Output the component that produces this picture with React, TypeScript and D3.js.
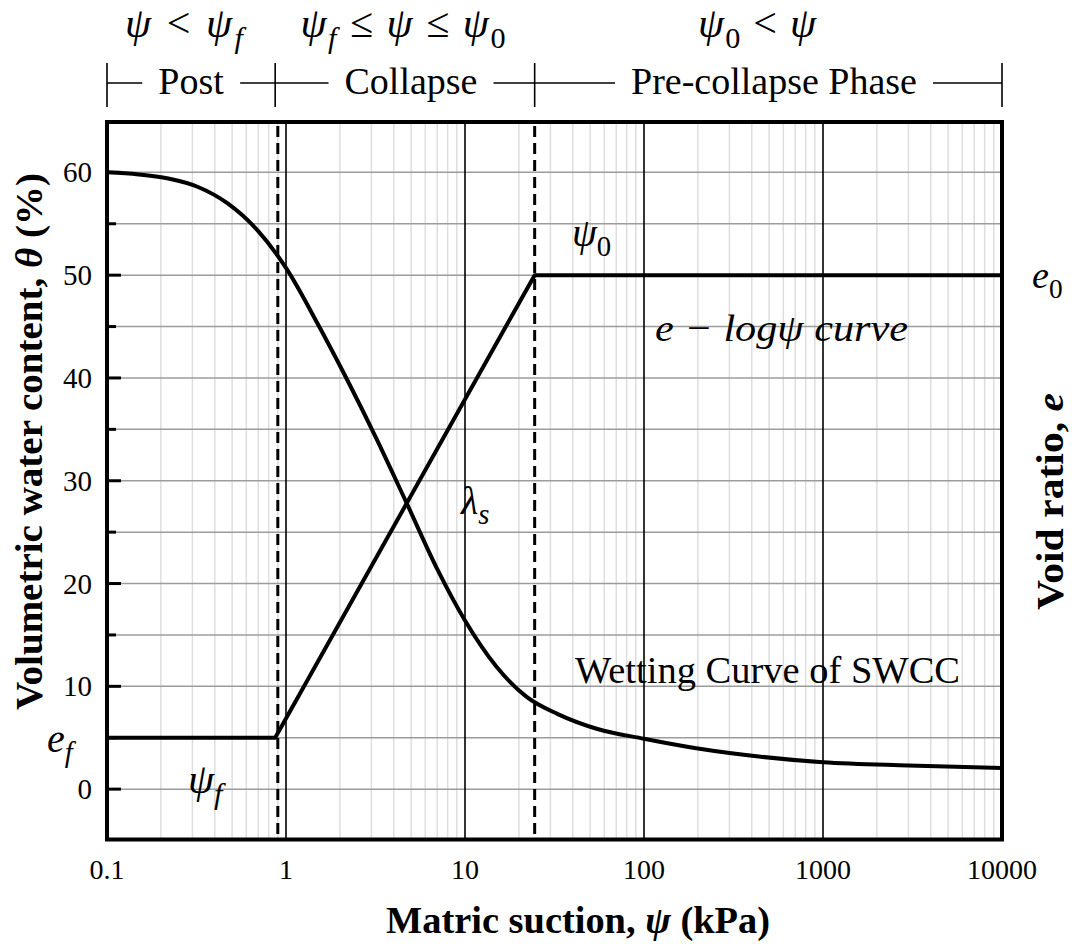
import React, { useEffect, useRef } from "react";
import * as d3 from "d3";

// ---- data ----
const swccSuction = [0.1, 0.15, 0.22, 0.32, 0.47, 0.69, 1.0, 1.5, 2.2, 3.2, 4.7, 7, 10, 15, 22, 33, 55, 100, 200, 450, 1000, 3000, 10000];
const swccTheta = [60, 59.8, 59.4, 58.6, 57.0, 54.4, 50.7, 45.3, 39.8, 34.1, 27.9, 21.4, 16.4, 11.9, 9.0, 7.3, 5.85, 4.9, 3.95, 3.15, 2.62, 2.3, 2.05];
const eLogSuction = [0.1, 0.87, 24.5, 10000];
const eLogValue = [5, 5, 50, 50];
const boundarySuction = [0.9, 24.5];
const xTickValues = [0.1, 1, 10, 100, 1000, 10000];
const xTickLabels = ["0.1", "1", "10", "100", "1000", "10000"];
const yTickValues = [0, 10, 20, 30, 40, 50, 60];
const yMinorValues = [5, 15, 25, 35, 45, 55];
const phaseNames = ["Post", "Collapse", "Pre-collapse Phase"];
const phaseBounds = [0.1, 0.87, 24.5, 10000];

const W = 1079;
const H = 944;
const SERIF = "'Liberation Serif', 'Times New Roman', serif";

type Part = { t: string; it?: boolean; sub?: boolean };

function mathText(g: any, x: number, y: number, parts: Part[], size: number, anchor = "start", len?: number) {
  const t = g.append("text").attr("x", x).attr("y", y).attr("font-family", SERIF)
    .attr("font-size", size).attr("text-anchor", anchor).attr("fill", "#000");
  if (len) t.attr("textLength", len).attr("lengthAdjust", "spacing");
  let prevSub = false;
  parts.forEach((p) => {
    const ts = t.append("tspan").text(p.t).attr("font-style", p.it ? "italic" : "normal");
    if (p.sub && !prevSub) ts.attr("dy", size * 0.25).attr("font-size", size * 0.72);
    else if (p.sub) ts.attr("font-size", size * 0.72);
    else if (!p.sub && prevSub) ts.attr("dy", -size * 0.25);
    prevSub = !!p.sub;
  });
  return t;
}

export default function App() {
  const ref = useRef<SVGSVGElement | null>(null);

  useEffect(() => {
    const svg = d3.select(ref.current);
    svg.selectAll("*").remove();

    const left = 107, right = 1002, top = 122, bottom = 839.5;
    const x = d3.scaleLog().domain([0.1, 10000]).range([left, right]);
    const y = d3.scaleLinear().domain([-4.9, 64.9]).range([bottom, top]);

    svg.append("rect").attr("width", W).attr("height", H).attr("fill", "#fff");

    const grid = svg.append("g");
    const minors: number[] = [];
    for (let d = -1; d < 4; d++) for (let k = 2; k <= 9; k++) minors.push(k * Math.pow(10, d));
    grid.selectAll(".vminor").data(minors).enter().append("line")
      .attr("x1", (d) => x(d)).attr("x2", (d) => x(d)).attr("y1", top).attr("y2", bottom)
      .attr("stroke", "#dedede").attr("stroke-width", 1.5);
    grid.selectAll(".h").data([...yTickValues, ...yMinorValues]).enter().append("line")
      .attr("x1", left).attr("x2", right).attr("y1", (d) => y(d)).attr("y2", (d) => y(d))
      .attr("stroke", "#9c9c9c").attr("stroke-width", 1.5);
    grid.selectAll(".vmajor").data([1, 10, 100, 1000]).enter().append("line")
      .attr("x1", (d) => x(d)).attr("x2", (d) => x(d)).attr("y1", top).attr("y2", bottom)
      .attr("stroke", "#000").attr("stroke-width", 1.6);

    svg.selectAll(".dash").data(boundarySuction).enter().append("line")
      .attr("x1", (d) => x(d)).attr("x2", (d) => x(d)).attr("y1", top + 4).attr("y2", bottom - 4)
      .attr("stroke", "#000").attr("stroke-width", 3).attr("stroke-dasharray", "11,6");

    const pts = swccSuction.map((s, i) => [x(s), y(swccTheta[i])] as [number, number]);
    svg.append("path").attr("d", d3.line().curve(d3.curveMonotoneX)(pts) as string)
      .attr("fill", "none").attr("stroke", "#000").attr("stroke-width", 4);
    const ePts = eLogSuction.map((s, i) => [x(s), y(eLogValue[i])] as [number, number]);
    svg.append("path").attr("d", d3.line()(ePts) as string)
      .attr("fill", "none").attr("stroke", "#000").attr("stroke-width", 4).attr("stroke-linejoin", "round");

    svg.selectAll(".yt").data(yTickValues).enter().append("line")
      .attr("x1", left).attr("x2", left + 14).attr("y1", (d) => y(d)).attr("y2", (d) => y(d))
      .attr("stroke", "#000").attr("stroke-width", 3);
    svg.selectAll(".ym").data(yMinorValues).enter().append("line")
      .attr("x1", left).attr("x2", left + 9).attr("y1", (d) => y(d)).attr("y2", (d) => y(d))
      .attr("stroke", "#000").attr("stroke-width", 3);

    svg.append("rect").attr("x", left).attr("y", top).attr("width", right - left).attr("height", bottom - top)
      .attr("fill", "none").attr("stroke", "#000").attr("stroke-width", 4);

    svg.selectAll(".yl").data(yTickValues).enter().append("text")
      .attr("x", 92).attr("y", (d) => y(d) + 10).attr("text-anchor", "end")
      .attr("font-family", SERIF).attr("font-size", 29).text((d) => String(d));
    svg.selectAll(".xl").data(xTickValues).enter().append("text")
      .attr("x", (d) => x(d)).attr("y", 879).attr("text-anchor", "middle")
      .attr("font-family", SERIF).attr("font-size", 28).text((d, i) => xTickLabels[i]);

    const xt = svg.append("text").attr("x", 578).attr("y", 933).attr("text-anchor", "middle")
      .attr("font-family", SERIF).attr("font-size", 38).attr("font-weight", "bold")
      .attr("textLength", 384).attr("lengthAdjust", "spacingAndGlyphs");
    xt.append("tspan").text("Matric suction, ");
    xt.append("tspan").attr("font-style", "italic").text("ψ");
    xt.append("tspan").text(" (kPa)");

    const yt = svg.append("text").attr("transform", "translate(42,441.5) rotate(-90)").attr("text-anchor", "middle")
      .attr("font-family", SERIF).attr("font-size", 38).attr("font-weight", "bold")
      .attr("textLength", 537).attr("lengthAdjust", "spacingAndGlyphs");
    yt.append("tspan").text("Volumetric water content, ");
    yt.append("tspan").attr("font-style", "italic").text("θ");
    yt.append("tspan").text(" (%)");

    const rt = svg.append("text").attr("transform", "translate(1063,501.5) rotate(-90)").attr("text-anchor", "middle")
      .attr("font-family", SERIF).attr("font-size", 38).attr("font-weight", "bold")
      .attr("textLength", 217).attr("lengthAdjust", "spacingAndGlyphs");
    rt.append("tspan").text("Void ratio, ");
    rt.append("tspan").attr("font-style", "italic").text("e");

    // header math
    mathText(svg, 184, 37, [{ t: "ψ", it: true }, { t: " < " }, { t: "ψ", it: true }, { t: "f", it: true, sub: true }], 42, "middle", 118);
    mathText(svg, 403, 37, [{ t: "ψ", it: true }, { t: "f", it: true, sub: true }, { t: " ≤ " }, { t: "ψ", it: true }, { t: " ≤ " }, { t: "ψ", it: true }, { t: "0", sub: true }], 42, "middle", 205);
    mathText(svg, 757, 37, [{ t: "ψ", it: true }, { t: "0", sub: true }, { t: " < " }, { t: "ψ", it: true }], 42, "middle", 118);

    // phase bracket
    const by = 83;
    const labelCx = [191, 411, 774];
    const br = svg.append("g");
    phaseBounds.forEach((b) => {
      br.append("line").attr("x1", x(b)).attr("x2", x(b)).attr("y1", 63).attr("y2", 107)
        .attr("stroke", "#000").attr("stroke-width", 1.6);
    });
    const segs: number[] = [x(phaseBounds[0])];
    phaseNames.forEach((name, i) => {
      const t = br.append("text").attr("x", labelCx[i]).attr("y", 94).attr("text-anchor", "middle")
        .attr("font-family", SERIF).attr("font-size", 38).text(name);
      const bb = (t.node() as SVGTextElement).getBBox();
      segs.push(bb.x - 16, bb.x + bb.width + 16);
    });
    segs.push(x(phaseBounds[3]));
    for (let i = 0; i < segs.length; i += 2) {
      br.append("line").attr("x1", segs[i]).attr("x2", segs[i + 1]).attr("y1", by).attr("y2", by)
        .attr("stroke", "#000").attr("stroke-width", 1.6);
    }

    // in-plot annotations
    mathText(svg, 572, 246, [{ t: "ψ", it: true }, { t: "0", sub: true }], 40);
    mathText(svg, 1032, 288, [{ t: "e", it: true }, { t: "0", sub: true }], 38);
    svg.append("text").attr("x", 655).attr("y", 341).attr("font-family", SERIF)
      .attr("font-size", 38).attr("font-style", "italic").attr("fill", "#000")
      .attr("textLength", 253).attr("lengthAdjust", "spacingAndGlyphs").text("e − logψ curve");
    mathText(svg, 461, 514, [{ t: "λ", it: true }, { t: "s", it: true, sub: true }], 40);
    svg.append("text").attr("x", 575).attr("y", 683).attr("font-family", SERIF).attr("font-size", 37)
      .attr("textLength", 385).attr("lengthAdjust", "spacingAndGlyphs").text("Wetting Curve of SWCC");
    mathText(svg, 47, 752, [{ t: "e", it: true }, { t: "f", it: true, sub: true }], 40);
    mathText(svg, 188, 793, [{ t: "ψ", it: true }, { t: "f", it: true, sub: true }], 42);
  }, []);

  return (
    <svg ref={ref} width={W} height={H} style={{ position: "absolute", left: 0, top: 0, display: "block" }} />
  );
}
